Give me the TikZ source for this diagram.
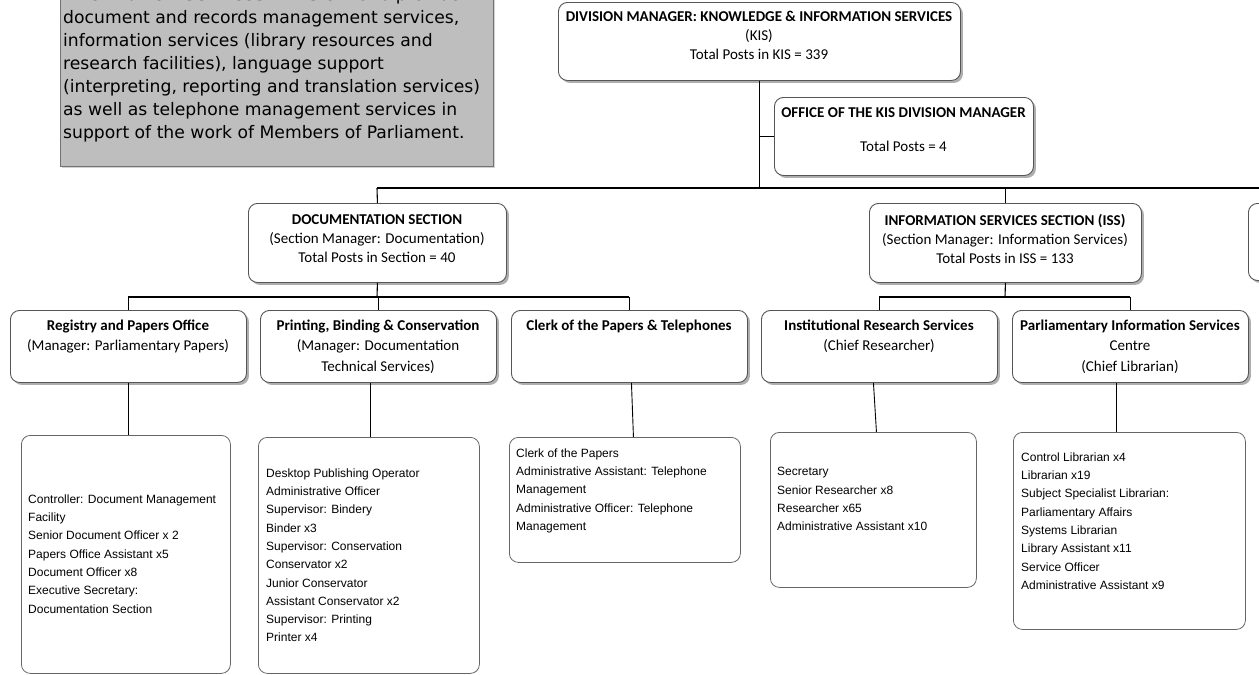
\documentclass[tikz,border=0pt]{standalone}
\usepackage{fontspec}
\setmainfont{Carlito}
\newfontfamily\listfont{Liberation Sans}
\newfontfamily\grayfont{DejaVu Sans}
\usetikzlibrary{shadows}
\definecolor{boxline}{HTML}{555555}
\definecolor{missiongray}{HTML}{BEBEBE}
\begin{document}
\begin{tikzpicture}[x=1pt,y=-1pt,
  rbox/.style={draw=boxline, line width=0.9pt, rounded corners=9pt, fill=white, inner sep=0pt, anchor=north west},
  tbox/.style={rbox, drop shadow={shadow xshift=2.5pt, shadow yshift=-2.5pt, fill=black!45, opacity=0.7}},
  lbox/.style={draw=boxline!90, line width=0.8pt, rounded corners=9pt, fill=white, inner sep=0pt, anchor=north west},
  ttl/.style={font=\fontsize{15}{19}\selectfont, align=center, inner sep=0pt, anchor=north},
  sttl/.style={font=\fontsize{15}{20.5}\selectfont, align=center, inner sep=0pt, anchor=north},
  lst/.style={font=\listfont\fontsize{12}{18.3}\selectfont, align=left, inner sep=0pt, anchor=north west},
  conn/.style={draw=black, line width=1.1pt}
]
\useasboundingbox (0,0) rectangle (1259,675);

% mission statement box
\node[draw=black!55, fill=missiongray, anchor=north west, minimum width=433pt, minimum height=200pt, inner sep=0pt,
      drop shadow={shadow xshift=2pt, shadow yshift=-2pt, fill=black!30, opacity=0.6}] (mission) at (60,-34) {};
\node[anchor=north west, align=left, inner sep=0pt, font=\grayfont\fontsize{17.2}{23}\selectfont] (missiontext) at (63,-12.9)
  {\textbf{Information Services Division} is to provide\\
   document and records management services,\\
   information services (library resources and\\
   research facilities), language support\\
   (interpreting, reporting and translation services)\\
   as well as telephone management services in\\
   support of the work of Members of Parliament.};

% division manager
\node[tbox, minimum width=402pt, minimum height=78pt] (top) at (558,2) {};
\node[ttl] (topt) at (759,11) {\textbf{DIVISION MANAGER: KNOWLEDGE \& INFORMATION SERVICES}\\(KIS)\\Total Posts in KIS = 339};

% office
\node[tbox, minimum width=259pt, minimum height=78pt] (office) at (774,97) {};
\node[ttl] (officet) at (903.5,107) {\textbf{OFFICE OF THE KIS DIVISION MANAGER}};
\node[ttl] (officen) at (903.5,140.5) {Total Posts = 4};

% sections
\node[tbox, minimum width=258pt, minimum height=79pt] (doc) at (248,203) {};
\node[ttl] (doct) at (377,214) {\textbf{DOCUMENTATION SECTION}\\(Section Manager: Documentation)\\Total Posts in Section = 40};

\node[tbox, minimum width=272pt, minimum height=79pt] (iss) at (869,203) {};
\node[ttl] (isst) at (1005,214) {\textbf{INFORMATION SERVICES SECTION (ISS)}\\(Section Manager: Information Services)\\Total Posts in ISS = 133};

\node[tbox, minimum width=80pt, minimum height=77pt] (third) at (1248,203) {};

% sub-sections
\node[tbox, minimum width=236pt, minimum height=72pt] (s1) at (10,310) {};
\node[sttl] (s1t) at (128,319.5) {\textbf{Registry and Papers Office}\\(Manager: Parliamentary Papers)};
\node[tbox, minimum width=236pt, minimum height=72pt] (s2) at (260,310) {};
\node[sttl] (s2t) at (378,319.5) {\textbf{Printing, Binding \& Conservation}\\(Manager: Documentation\\Technical Services)};
\node[tbox, minimum width=236pt, minimum height=72pt] (s3) at (511,310) {};
\node[sttl] (s3t) at (629,319.5) {\textbf{Clerk of the Papers \& Telephones}};
\node[tbox, minimum width=236pt, minimum height=72pt] (s4) at (761,310) {};
\node[sttl] (s4t) at (879,319.5) {\textbf{Institutional Research Services}\\(Chief Researcher)};
\node[tbox, minimum width=236pt, minimum height=72pt] (s5) at (1012,310) {};
\node[sttl] (s5t) at (1130,319.5) {\textbf{Parliamentary Information Services}\\Centre\\(Chief Librarian)};

% lists
\node[lbox, minimum width=209pt, minimum height=238pt] (b1) at (21,435) {};
\node[lst] (b1t) at (28,494.3) {Controller: Document Management\\Facility\\Senior Document Officer x 2\\Papers Office Assistant x5\\Document Officer x8\\Executive Secretary:\\Documentation Section};
\node[lbox, minimum width=221pt, minimum height=236pt] (b2) at (258,437) {};
\node[lst] (b2t) at (266,468.3) {Desktop Publishing Operator\\Administrative Officer\\Supervisor: Bindery\\Binder x3\\Supervisor: Conservation\\Conservator x2\\Junior Conservator\\Assistant Conservator x2\\Supervisor: Printing\\Printer x4};
\node[lbox, minimum width=231pt, minimum height=125pt] (b3) at (509,437) {};
\node[lst] (b3t) at (516,448.3) {Clerk of the Papers\\Administrative Assistant: Telephone\\Management\\Administrative Officer: Telephone\\Management};
\node[lbox, minimum width=206pt, minimum height=155pt] (b4) at (770,432) {};
\node[lst] (b4t) at (777,467.3) {Secretary\\Senior Researcher x8\\Researcher x65\\Administrative Assistant x10};
\node[lbox, minimum width=232pt, minimum height=197pt] (b5) at (1013,432) {};
\node[lst] (b5t) at (1021,452.3) {Control Librarian x4\\Librarian x19\\Subject Specialist Librarian:\\Parliamentary Affairs\\Systems Librarian\\Library Assistant x11\\Service Officer\\Administrative Assistant x9};

% connectors
\coordinate (busL) at (377,188);
\coordinate (busR) at (1262,188);
\draw[conn] (top.south) -- (top.south |- busL);
\draw[conn] (office.west) -- (office.west -| top.south);
\draw[conn] (busL) -- (busR);
\draw[conn] (busL) -- (doc.north);
\draw[conn] (iss.north |- busL) -- (iss.north);

\coordinate (dbus) at (377,297);
\draw[conn] (doc.south) -- (dbus);
\draw[conn] (s1.north |- dbus) -- (s3.north |- dbus);
\draw[conn] (s1.north |- dbus) -- (s1.north);
\draw[conn] (s2.north |- dbus) -- (s2.north);
\draw[conn] (s3.north |- dbus) -- (s3.north);

\coordinate (ibus) at (1005,297);
\draw[conn] (iss.south) -- (ibus);
\draw[conn] (s4.north |- ibus) -- (s5.north |- ibus);
\draw[conn] (s4.north |- ibus) -- (s4.north);
\draw[conn] (s5.north |- ibus) -- (s5.north);

\draw[conn, line width=0.9pt] (s1.south) -- (s1.south |- b1.north);
\draw[conn, line width=0.9pt] ([xshift=-8pt]s2.south) -- ([xshift=-8pt]s2.south |- b2.north);
\draw[conn, line width=0.9pt] ([xshift=2pt]s3.south) -- ([xshift=4pt]s3.south |- b3.north);
\draw[conn, line width=0.9pt] ([xshift=-6pt]s4.south) -- ([xshift=-3pt]s4.south |- b4.north);
\draw[conn, line width=0.9pt] ([xshift=-14pt]s5.south) -- ([xshift=-14pt]s5.south |- b5.north);
\end{tikzpicture}
\end{document}
